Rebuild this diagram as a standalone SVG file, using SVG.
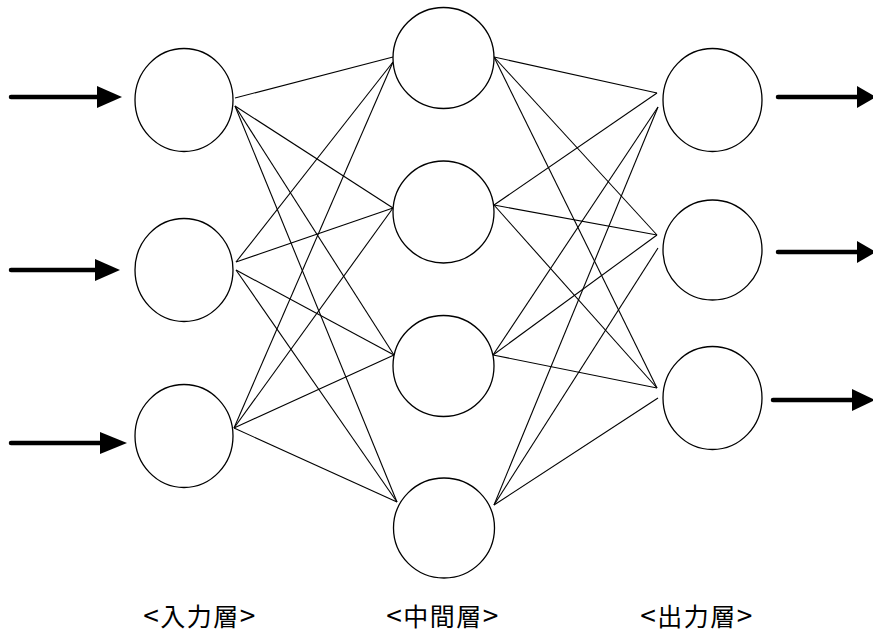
<svg xmlns="http://www.w3.org/2000/svg" width="873" height="636" viewBox="0 0 873 636">
<style>
.node{fill:#fff;stroke:#000;stroke-width:1.3}
.conn line{stroke:#000;stroke-width:1.1}
.shaft{stroke:#000;stroke-width:4.5;stroke-linecap:round}
.head{fill:#000}
.lbl{font-family:"Noto Sans CJK JP","Noto Sans",sans-serif;font-size:25px;letter-spacing:1.5px;fill:#000;text-anchor:middle}
.br{font-size:28px}
</style>
<rect width="873" height="636" fill="#fff"/>
<g id="connectors" class="conn">
<line x1="235" y1="98" x2="393" y2="57"/>
<line x1="235" y1="106" x2="393" y2="208"/>
<line x1="235" y1="106" x2="394" y2="355"/>
<line x1="235" y1="106" x2="397" y2="502"/>
<line x1="236" y1="262" x2="393" y2="62"/>
<line x1="236" y1="262" x2="393" y2="208"/>
<line x1="236" y1="270" x2="394" y2="355"/>
<line x1="236" y1="270" x2="397" y2="502"/>
<line x1="234" y1="428" x2="393" y2="62"/>
<line x1="234" y1="428" x2="393" y2="208"/>
<line x1="234" y1="428" x2="394" y2="355"/>
<line x1="234" y1="428" x2="397" y2="502"/>
<line x1="494" y1="57" x2="657" y2="93"/>
<line x1="494" y1="57" x2="657" y2="235"/>
<line x1="494" y1="57" x2="657" y2="388"/>
<line x1="494" y1="205" x2="657" y2="93"/>
<line x1="494" y1="205" x2="657" y2="235"/>
<line x1="494" y1="205" x2="657" y2="388"/>
<line x1="493" y1="355" x2="658" y2="107"/>
<line x1="493" y1="355" x2="657" y2="235"/>
<line x1="493" y1="355" x2="657" y2="388"/>
<line x1="494" y1="505" x2="658" y2="107"/>
<line x1="494" y1="505" x2="658" y2="248"/>
<line x1="494" y1="505" x2="658" y2="398"/>
</g>
<g id="arrows">
<line class="shaft" x1="11" y1="97" x2="100" y2="97"/><polygon class="head" points="97,86 122,97 97,108"/>
<line class="shaft" x1="11" y1="270" x2="98" y2="270"/><polygon class="head" points="95,259 120,270 95,281"/>
<line class="shaft" x1="11" y1="443" x2="103" y2="443"/><polygon class="head" points="100,432 127,443 100,454"/>
<line class="shaft" x1="778" y1="97" x2="860" y2="97"/><polygon class="head" points="857,86 876,97 857,108"/>
<line class="shaft" x1="778" y1="252" x2="860" y2="252"/><polygon class="head" points="857,241 876,252 857,263"/>
<line class="shaft" x1="773" y1="400" x2="855" y2="400"/><polygon class="head" points="852,389 875,400 852,411"/>
</g>
<g id="in1"><ellipse class="node" cx="184" cy="100" rx="49" ry="51.5"/></g>
<g id="in2"><ellipse class="node" cx="184" cy="270" rx="49" ry="51.5"/></g>
<g id="in3"><ellipse class="node" cx="184" cy="436" rx="49" ry="51.5"/></g>
<g id="mid1"><ellipse class="node" cx="443.5" cy="58" rx="50.5" ry="50.5"/></g>
<g id="mid2"><ellipse class="node" cx="443.5" cy="212" rx="50.5" ry="51"/></g>
<g id="mid3"><ellipse class="node" cx="443.5" cy="366" rx="50.5" ry="50.5"/></g>
<g id="mid4"><ellipse class="node" cx="444" cy="528" rx="50.5" ry="50"/></g>
<g id="out1"><ellipse class="node" cx="712.5" cy="100" rx="49.5" ry="51.5"/></g>
<g id="out2"><ellipse class="node" cx="712.5" cy="250" rx="49.5" ry="50"/></g>
<g id="out3"><ellipse class="node" cx="712.5" cy="398" rx="49.5" ry="51.5"/></g>
<g id="labels">
<text class="lbl" x="200" y="626"><tspan class="br">&lt;</tspan>入力層<tspan class="br">&gt;</tspan></text>
<text class="lbl" x="443" y="626"><tspan class="br">&lt;</tspan>中間層<tspan class="br">&gt;</tspan></text>
<text class="lbl" x="697" y="626"><tspan class="br">&lt;</tspan>出力層<tspan class="br">&gt;</tspan></text>
</g>
</svg>
